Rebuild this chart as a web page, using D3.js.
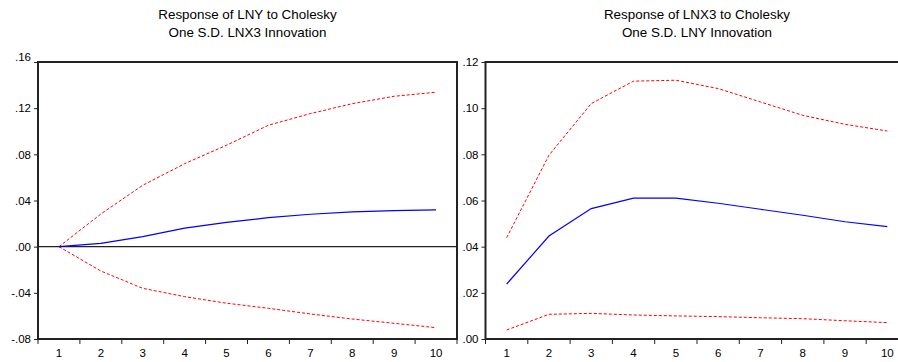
<html>
  <head>
    <script src="https://cdnjs.cloudflare.com/ajax/libs/d3/7.8.5/d3.min.js"></script>
    <style>
      body { margin: 0; background: #fff; }
      svg { display: block; font-family: "Liberation Sans", Arial, sans-serif; }
      .axis text { font-size: 11.5px; fill: #000; }
      .axis path, .axis line { stroke: #222; }
    </style>
  </head>
  <body>
    <svg width="898" height="362"></svg>
    <script>
      // periods on the x axis
      const periods = [1, 2, 3, 4, 5, 6, 7, 8, 9, 10];

      // left: response of LNY to LNX3
      const lnyResp  = [0.000, 0.0029, 0.0087, 0.0160, 0.0211, 0.0251, 0.0281, 0.0301, 0.0312, 0.0318];
      const lnyUpper = [0.000, 0.0283, 0.0532, 0.0719, 0.0879, 0.1052, 0.1153, 0.1239, 0.1303, 0.1338];
      const lnyLower = [0.000, -0.0211, -0.0361, -0.0433, -0.0490, -0.0534, -0.0583, -0.0627, -0.0664, -0.0702];
      const lnyTicks = [-0.08, -0.04, 0, 0.04, 0.08, 0.12, 0.16];

      // right: response of LNX3 to LNY
      const lnxResp  = [0.0238, 0.0446, 0.0565, 0.0610, 0.0610, 0.0588, 0.0562, 0.0536, 0.0508, 0.0487];
      const lnxUpper = [0.0439, 0.0796, 0.1020, 0.1117, 0.1121, 0.1085, 0.1027, 0.0969, 0.0930, 0.0901];
      const lnxLower = [0.0039, 0.0107, 0.0111, 0.0104, 0.0100, 0.0097, 0.0092, 0.0088, 0.0079, 0.0071];
      const lnxTicks = [0, 0.02, 0.04, 0.06, 0.08, 0.10, 0.12];

      const svg = d3.select("svg");
      const plotTop = 62, plotBottom = 339;

      const fmt = v => {
        let s = d3.format(".2f")(v);
        return s.replace("−", "-").replace(/^(-?)0\./, "$1.");
      };

      function panel(opts) {
        const { x0, x1, domain, ticks, resp, upper, lower, title, zeroLine, liftTop } = opts;
        const g = svg.append("g");

        const x = d3.scaleBand().domain(periods).range([x0, x1]).padding(0);
        const y = d3.scaleLinear().domain(domain).range([plotBottom, plotTop]);
        const cx = d => x(d) + x.bandwidth() / 2;

        // title
        const cxTitle = (x0 + x1) / 2;
        g.append("text").attr("x", cxTitle).attr("y", 19).attr("text-anchor", "middle")
          .attr("font-size", 13.4).text(title[0]);
        g.append("text").attr("x", cxTitle).attr("y", 37).attr("text-anchor", "middle")
          .attr("font-size", 13.4).text(title[1]);

        // zero line
        if (zeroLine) {
          g.append("line").attr("x1", x0).attr("x2", x1)
            .attr("y1", y(0)).attr("y2", y(0))
            .attr("stroke", "#222").attr("stroke-width", 1.2);
        }

        // y axis
        const ya = g.append("g").attr("class", "axis")
          .attr("transform", `translate(${x0},0)`)
          .call(d3.axisLeft(y).tickValues(ticks).tickSize(4).tickPadding(3).tickFormat(fmt))
          .call(a => a.select(".domain").remove());
        if (liftTop) {
          ya.selectAll(".tick").filter(d => d === ticks[ticks.length - 1])
            .select("text").attr("y", -5);
        }

        // x axis labels
        g.append("g").attr("class", "axis")
          .attr("transform", `translate(0,${plotBottom})`)
          .call(d3.axisBottom(x).tickSize(0).tickPadding(10))
          .call(a => a.select(".domain").remove());

        // boundary ticks
        const bounds = d3.range(periods.length + 1).map(i => x0 + i * x.step());
        g.selectAll(".btick").data(bounds).join("line")
          .attr("x1", d => d).attr("x2", d => d)
          .attr("y1", plotBottom).attr("y2", plotBottom + 5)
          .attr("stroke", "#222").attr("stroke-width", 1);

        // lines
        const line = vals => d3.line().x((d, i) => cx(periods[i])).y(d => y(d))(vals);
        [upper, lower].forEach(vals => {
          g.append("path").attr("d", line(vals)).attr("fill", "none")
            .attr("stroke", "#ff0000").attr("stroke-width", 1)
            .attr("stroke-dasharray", "3,2");
        });
        g.append("path").attr("d", line(resp)).attr("fill", "none")
          .attr("stroke", "#0000ff").attr("stroke-width", 1.2);

        // frame
        g.append("rect").attr("x", x0).attr("y", plotTop)
          .attr("width", x1 - x0).attr("height", plotBottom - plotTop)
          .attr("fill", "none").attr("stroke", "#222").attr("stroke-width", 2);
      }

      panel({
        x0: 38, x1: 457, domain: [-0.08, 0.16], ticks: lnyTicks,
        resp: lnyResp, upper: lnyUpper, lower: lnyLower, zeroLine: true, liftTop: true,
        title: ["Response of LNY to Cholesky", "One S.D. LNX3 Innovation"]
      });
      panel({
        x0: 485.5, x1: 908.5, domain: [0, 0.12], ticks: lnxTicks,
        resp: lnxResp, upper: lnxUpper, lower: lnxLower, zeroLine: false, liftTop: false,
        title: ["Response of LNX3 to Cholesky", "One S.D. LNY Innovation"]
      });
    </script>
  </body>
</html>
